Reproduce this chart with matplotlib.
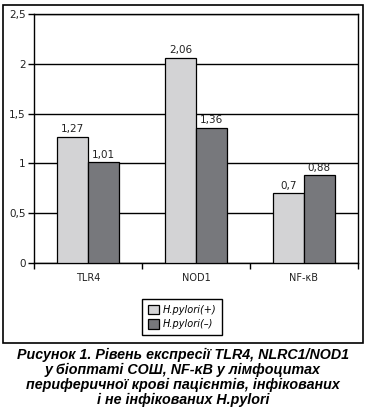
import matplotlib
matplotlib.use("Agg")
import matplotlib.pyplot as plt
import numpy as np
from matplotlib.patches import Rectangle

categories = ["TLR4", "NOD1", "NF-\u03baB"]
hp_pos = [1.27, 2.06, 0.70]
hp_neg = [1.01, 1.36, 0.88]
pos_labels = ["1,27", "2,06", "0,7"]
neg_labels = ["1,01", "1,36", "0,88"]
yticks = [0, 0.5, 1, 1.5, 2, 2.5]
ytick_labels = ["0", "0,5", "1", "1,5", "2", "2,5"]
series_names = ["H.pylori(+)", "H.pylori(\u2013)"]
caption = ["Рисунок 1. Рівень експресії TLR4, NLRC1/NOD1",
           "у біоптаті СОШ, NF-\u03baB у лімфоцитах",
           "периферичної крові пацієнтів, інфікованих",
           "і не інфікованих H.pylori"]

LIGHT = "#d3d3d5"
DARK = "#77787c"

W, H = 368, 408
fig = plt.figure(figsize=(W / 100, H / 100), dpi=100)
ax = fig.add_axes([34 / W, 1 - 263 / H, 324 / W, 249 / H])

x = np.arange(len(categories))
bw = 0.283
b1 = ax.bar(x - bw / 2, hp_pos, bw, color=LIGHT, edgecolor="black", lw=0.9,
            label=series_names[0], zorder=3)
b2 = ax.bar(x + bw / 2, hp_neg, bw, color=DARK, edgecolor="black", lw=0.9,
            label=series_names[1], zorder=3)
for bars, labels in ((b1, pos_labels), (b2, neg_labels)):
    for rect, lab in zip(bars, labels):
        ax.annotate(lab, (rect.get_x() + rect.get_width() / 2, rect.get_height()),
                    xytext=(0, 2), textcoords="offset points", ha="center",
                    va="bottom", fontsize=7.5, color="#222")

ax.set_xlim(-0.5, 2.5)
ax.set_ylim(0, 2.5)
ax.set_yticks(yticks)
ax.set_yticklabels(ytick_labels, fontsize=7.5, color="#222")
ax.set_xticks([-0.5, 0.5, 1.5, 2.5])
ax.set_xticklabels([])
ax.set_xticks(x, minor=True)
ax.set_xticklabels(categories, minor=True, fontsize=7, color="#222")
ax.tick_params(axis="x", which="minor", length=0, pad=7)
ax.tick_params(axis="x", which="major", length=4, width=1, direction="out")
ax.tick_params(axis="y", length=4, width=1, direction="out", pad=2)
ax.grid(axis="y", color="black", lw=1, zorder=0)
for s in ax.spines.values():
    s.set_linewidth(1)

leg = fig.legend(handles=[b1, b2], loc="center", bbox_to_anchor=(182 / W, 1 - 317 / H),
                 fancybox=False, edgecolor="black", framealpha=1,
                 prop={"style": "italic", "size": 7}, handlelength=1.1,
                 handleheight=1.1, handletextpad=0.4, labelspacing=0.5,
                 borderpad=0.6)
leg.get_frame().set_linewidth(1)

fig.add_artist(Rectangle((3 / W, 1 - 343 / H), 359.5 / W, 338 / H,
                         transform=fig.transFigure, fill=False,
                         edgecolor="black", lw=1.2))

for i, line in enumerate(caption):
    fig.text(183 / W, 1 - (355 + i * 15) / H, line, ha="center", va="center",
             fontsize=10.3, fontweight="bold", fontstyle="italic",
             family="Liberation Sans")

fig.savefig("out.png", dpi=100)
